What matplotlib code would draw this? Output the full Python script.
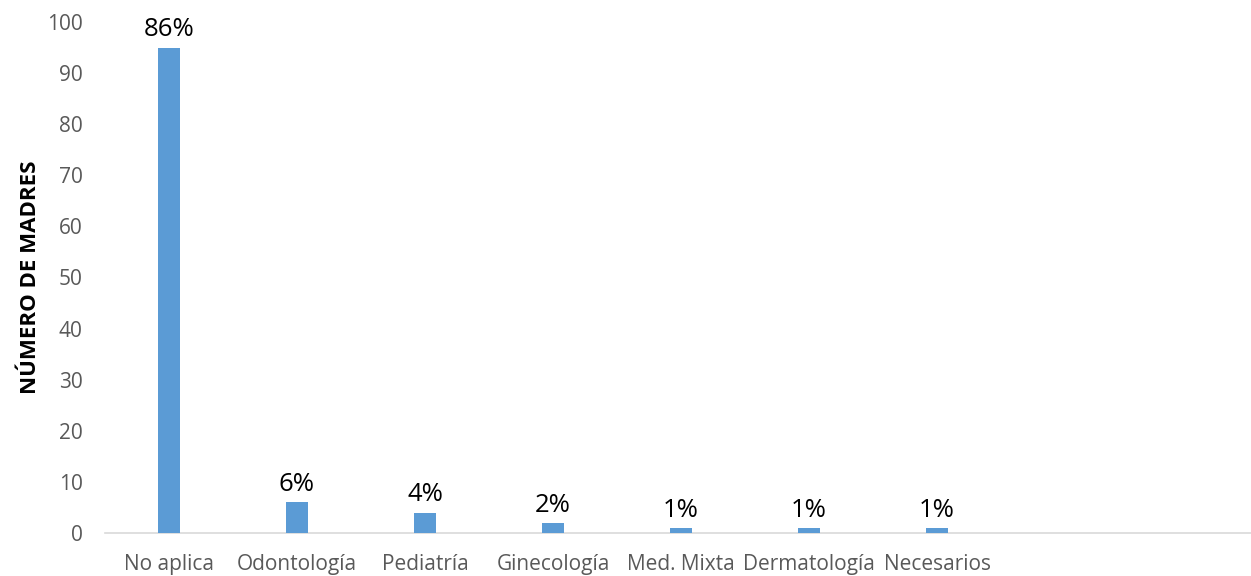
import matplotlib
matplotlib.use("Agg")
import matplotlib.pyplot as plt

categories = ["No aplica", "Odontología", "Pediatría", "Ginecología", "Med. Mixta",
              "Dermatología", "Necesarios", "", ""]
values = [95, 6, 4, 2, 1, 1, 1, 0, 0]
pct_labels = ["86%", "6%", "4%", "2%", "1%", "1%", "1%", "", ""]
yticks = [0, 10, 20, 30, 40, 50, 60, 70, 80, 90, 100]

plt.rcParams['font.family'] = ['Open Sans', 'DejaVu Sans']

W, H = 1251, 576
fig = plt.figure(figsize=(W/100, H/100), dpi=100)
left, right, top, bottom = 105, 1251, 22, 533
ax = fig.add_axes([left/W, 1 - bottom/H, (right-left)/W, (bottom-top)/H])

x = list(range(len(categories)))
bars = ax.bar(x, values, width=0.17, color="#5b9bd5", zorder=3)
for xi, v, lab in zip(x, values, pct_labels):
    if lab:
        ax.text(xi, v + 1.0, lab, ha="center", va="bottom", fontsize=18.5, color="black")

ax.set_xlim(-0.5, -0.5 + (right-left)/128)
ax.set_ylim(0, 100)
ax.set_yticks(yticks)
ax.set_xticks(x)
ax.set_xticklabels(categories, fontsize=15, color="#595959")
ax.tick_params(axis="y", labelsize=15, labelcolor="#595959", length=0, pad=16)
ax.tick_params(axis="x", length=0, pad=15)
for s in ["top", "right", "left"]:
    ax.spines[s].set_visible(False)
ax.spines["bottom"].set_color("#d9d9d9")
ax.spines["bottom"].set_linewidth(1.2)
ax.set_ylabel("NÚMERO DE MADRES", fontsize=16, fontweight="bold", color="black")
ax.yaxis.set_label_coords(-64/(right-left), 0.5)

fig.savefig("out.png", dpi=100)
